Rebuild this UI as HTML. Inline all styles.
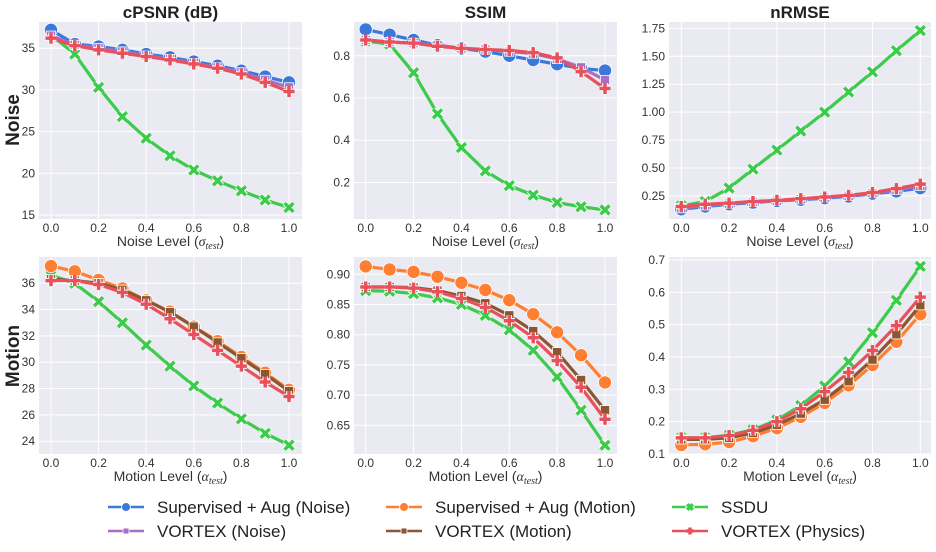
<!DOCTYPE html>
<html><head><meta charset="utf-8"><style>
body{margin:0;background:#fff}
svg{font-family:"Liberation Sans",sans-serif;display:block}
</style></head><body>
<svg id="c" width="936" height="552"></svg>
<script>
const xs=[0,0.1,0.2,0.3,0.4,0.5,0.6,0.7,0.8,0.9,1.0];
const xTicks=[0,0.2,0.4,0.6,0.8,1.0];
// Noise row
const nPsnrSupN=[37.2,35.5,35.2,34.8,34.3,33.9,33.4,32.9,32.3,31.6,30.9];
const nPsnrVxN=[36.5,35.4,35.0,34.6,34.1,33.7,33.2,32.7,32.1,31.2,30.3];
const nPsnrPhys=[36.2,35.3,34.8,34.4,34.0,33.6,33.1,32.6,31.9,30.9,29.8];
const nPsnrSSDU=[36.6,34.3,30.3,26.8,24.2,22.1,20.4,19.1,17.9,16.8,15.9];
const nSsimSupN=[0.925,0.90,0.875,0.85,0.835,0.82,0.80,0.78,0.76,0.74,0.73];
const nSsimVxN=[0.875,0.865,0.86,0.85,0.835,0.83,0.82,0.81,0.785,0.745,0.685];
const nSsimPhys=[0.875,0.865,0.86,0.845,0.835,0.83,0.825,0.815,0.79,0.725,0.645];
const nSsimSSDU=[0.87,0.855,0.72,0.525,0.365,0.255,0.185,0.14,0.105,0.085,0.07];
const nRmseSupN=[0.13,0.155,0.175,0.19,0.205,0.215,0.23,0.245,0.27,0.29,0.32];
const nRmseVxN=[0.14,0.165,0.18,0.195,0.205,0.22,0.235,0.25,0.275,0.305,0.34];
const nRmsePhys=[0.155,0.175,0.185,0.2,0.21,0.225,0.24,0.255,0.28,0.315,0.355];
const nRmseSSDU=[0.16,0.2,0.32,0.49,0.66,0.83,1.0,1.18,1.36,1.55,1.73];
// Motion row
const mPsnrSupM=[37.3,36.9,36.25,35.6,34.7,33.85,32.7,31.6,30.4,29.2,27.9];
const mPsnrVxM=[36.3,36.2,36.0,35.5,34.7,33.8,32.7,31.5,30.3,29.1,27.8];
const mPsnrPhys=[36.2,36.2,35.9,35.3,34.4,33.3,32.1,30.9,29.7,28.5,27.4];
const mPsnrSSDU=[36.6,36.0,34.6,33.0,31.3,29.7,28.2,26.9,25.7,24.6,23.7];
const mSsimSupM=[0.913,0.908,0.904,0.896,0.886,0.874,0.857,0.834,0.804,0.766,0.721];
const mSsimVxM=[0.879,0.879,0.878,0.873,0.864,0.852,0.832,0.806,0.771,0.725,0.675];
const mSsimPhys=[0.879,0.879,0.877,0.871,0.86,0.845,0.823,0.795,0.757,0.713,0.66];
const mSsimSSDU=[0.873,0.872,0.868,0.861,0.85,0.832,0.808,0.774,0.73,0.675,0.617];
const mRmseSupM=[0.128,0.13,0.137,0.155,0.18,0.215,0.258,0.312,0.375,0.447,0.532];
const mRmseVxM=[0.145,0.145,0.15,0.165,0.19,0.225,0.268,0.325,0.392,0.47,0.56];
const mRmsePhys=[0.15,0.15,0.157,0.173,0.2,0.24,0.293,0.352,0.42,0.497,0.585];
const mRmseSSDU=[0.15,0.15,0.158,0.175,0.205,0.25,0.31,0.385,0.475,0.575,0.68];
// ticks
const psnrNoiseTicks=[15,20,25,30,35];
const ssimNoiseTicks=[0.2,0.4,0.6,0.8];
const rmseNoiseTicks=[0.25,0.5,0.75,1.0,1.25,1.5,1.75];
const psnrMotionTicks=[24,26,28,30,32,34,36];
const ssimMotionTicks=[0.65,0.7,0.75,0.8,0.85,0.9];
const rmseMotionTicks=[0.1,0.2,0.3,0.4,0.5,0.6,0.7];
const legendLabels=["Supervised + Aug (Noise)","Supervised + Aug (Motion)","SSDU","VORTEX (Noise)","VORTEX (Motion)","VORTEX (Physics)"];

const NS="http://www.w3.org/2000/svg";
const svgEl=document.getElementById('c');
function mk(t,a,p){const e=document.createElementNS(NS,t);for(const k in a)e.setAttribute(k,a[k]);(p||svgEl).appendChild(e);return e;}
const S={
 supN:{c:"#3b78dc",m:"o",name:"supervised-noise"},
 supM:{c:"#ff7f32",m:"o",name:"supervised-motion"},
 ssdu:{c:"#3ccb4a",m:"x",name:"ssdu"},
 vxN:{c:"#a86fc4",m:"s",name:"vortex-noise"},
 vxM:{c:"#8c5630",m:"s",name:"vortex-motion"},
 phys:{c:"#e8505b",m:"+",name:"vortex-physics"}
};
function marker(g,m,x,y,c,sz){
 if(m==="o")return mk('circle',{cx:x,cy:y,r:sz*0.55,fill:c,stroke:'#fff','stroke-width':0.8},g);
 if(m==="s"){const h=sz*0.42;return mk('rect',{x:x-h,y:y-h,width:2*h,height:2*h,fill:c,stroke:'#fff','stroke-width':0.8},g);}
 const h=sz*0.5,d=m==="x"?`M${x-h*0.8},${y-h*0.8}L${x+h*0.8},${y+h*0.8}M${x+h*0.8},${y-h*0.8}L${x-h*0.8},${y+h*0.8}`:`M${x-h},${y}L${x+h},${y}M${x},${y-h}L${x},${y+h}`;
 mk('path',{d:d,stroke:'#fff','stroke-width':5.5,fill:'none'},g);
 return mk('path',{d:d,stroke:c,'stroke-width':3.5,fill:'none'},g);
}
function panel(o){
 const g=mk('g',{});
 
 
 mk('rect',{x:o.L,y:o.T,width:o.R-o.L,height:o.B-o.T,fill:'#eaeaf2'},g);
 const sx=v=>o.x0+(o.x1-o.x0)*v;
 const sy=v=>o.T+(o.ymax-v)/(o.ymax-o.ymin)*(o.B-o.T);
 xTicks.forEach(t=>{
  mk('line',{x1:sx(t),x2:sx(t),y1:o.T,y2:o.B,stroke:'#fff','stroke-width':1},g);
  const tx=mk('text',{x:sx(t),y:o.B+13,'text-anchor':'middle','font-size':12,fill:'#333'},g);tx.textContent=t.toFixed(1);
 });
 o.yt.forEach(t=>{
  mk('line',{x1:o.L,x2:o.R,y1:sy(t),y2:sy(t),stroke:'#fff','stroke-width':1},g);
  const tx=mk('text',{x:o.L-4,y:sy(t)+4,'text-anchor':'end','font-size':12,fill:'#333'},g);tx.textContent=o.fmt(t);
 });
 o.series.forEach(([key,arr])=>{
  const s=S[key];
  const sg=mk('g',{},g);
  
  
  mk('polyline',{points:arr.map((v,i)=>sx(xs[i])+','+sy(v)).join(' '),fill:'none',stroke:s.c,'stroke-width':3.2,'stroke-linejoin':'round'},sg);
  arr.forEach((v,i)=>marker(sg,s.m,sx(xs[i]),sy(v),s.c,s.m==="o"?12:11));
 });
 if(o.title){const t=mk('text',{x:(o.L+o.R)/2,y:18,'text-anchor':'middle','font-size':17,'font-weight':'bold',fill:'#222'},g);t.textContent=o.title;}
 const xl=mk('text',{x:(o.L+o.R)/2,y:o.B+27,'text-anchor':'middle','font-size':14,fill:'#333'},g);
 
 
 xl.innerHTML=o.xlab+' (<tspan font-family="Liberation Serif" font-style="italic">'+o.sym+'</tspan><tspan font-family="Liberation Serif" font-style="italic" font-size="10" dy="3">test</tspan><tspan dy="-3">)</tspan>';
}
const f1=v=>String(v), f2=v=>v.toFixed(2), f1d=v=>v.toFixed(1);
const rowTopY={T:22,B:219}, rowBotY={T:257,B:454};
const c1={L:39,R:302,x0:51,x1:289}, c2={L:354,R:617,x0:365.7,x1:605}, c3={L:669,R:931,x0:681.3,x1:920.3};
panel({name:'panel-noise-cpsnr',...c1,...rowTopY,ymin:14.52,ymax:38.14,yt:psnrNoiseTicks,fmt:f1,title:'cPSNR (dB)',xlab:'Noise Level',sym:'σ',
 series:[['ssdu',nPsnrSSDU],['supN',nPsnrSupN],['vxN',nPsnrVxN],['phys',nPsnrPhys]]});
panel({name:'panel-noise-ssim',...c2,...rowTopY,ymin:0.027,ymax:0.96,yt:ssimNoiseTicks,fmt:f1d,title:'SSIM',xlab:'Noise Level',sym:'σ',
 series:[['ssdu',nSsimSSDU],['supN',nSsimSupN],['vxN',nSsimVxN],['phys',nSsimPhys]]});
panel({name:'panel-noise-nrmse',...c3,...rowTopY,ymin:0.043,ymax:1.807,yt:rmseNoiseTicks,fmt:f2,title:'nRMSE',xlab:'Noise Level',sym:'σ',
 series:[['ssdu',nRmseSSDU],['supN',nRmseSupN],['vxN',nRmseVxN],['phys',nRmsePhys]]});
panel({name:'panel-motion-cpsnr',...c1,...rowBotY,ymin:23.03,ymax:37.99,yt:psnrMotionTicks,fmt:f1,xlab:'Motion Level',sym:'α',
 series:[['ssdu',mPsnrSSDU],['supM',mPsnrSupM],['vxM',mPsnrVxM],['phys',mPsnrPhys]]});
panel({name:'panel-motion-ssim',...c2,...rowBotY,ymin:0.6025,ymax:0.9286,yt:ssimMotionTicks,fmt:f2,xlab:'Motion Level',sym:'α',
 series:[['ssdu',mSsimSSDU],['supM',mSsimSupM],['vxM',mSsimVxM],['phys',mSsimPhys]]});
panel({name:'panel-motion-nrmse',...c3,...rowBotY,ymin:0.1,ymax:0.709,yt:rmseMotionTicks,fmt:f1d,xlab:'Motion Level',sym:'α',
 series:[['ssdu',mRmseSSDU],['supM',mRmseSupM],['vxM',mRmseVxM],['phys',mRmsePhys]]});
// row labels
[['Noise',120,'row-label-noise'],['Motion',356,'row-label-motion']].forEach(([t,y,n])=>{
 const e=mk('text',{x:0,y:0,transform:`translate(19,${y}) rotate(-90)`,'text-anchor':'middle','font-size':19,'font-weight':'bold',fill:'#222'});
 e.textContent=t;
 
 
});
// legend
const legKeys=['supN','supM','ssdu','vxN','vxM','phys'];
const colX=[108,386,672], rowY=[507,531];
legKeys.forEach((k,i)=>{
 const s=S[k],x=colX[i%3],y=rowY[Math.floor(i/3)];
 const g=mk('g',{});
 
 
 mk('line',{x1:x,x2:x+36,y1:y,y2:y,stroke:s.c,'stroke-width':2.5},g);
 marker(g,s.m,x+18,y,s.c,s.m==="o"?8:7);
 const t=mk('text',{x:x+49,y:y+6,'font-size':17,fill:'#222'},g);t.textContent=legendLabels[i];
});
</script>
</body></html>
